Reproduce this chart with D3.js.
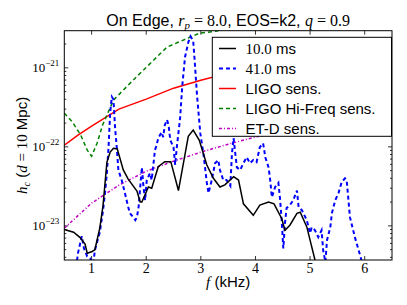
<!DOCTYPE html>
<html>
<head>
<meta charset="utf-8">
<script src="https://d3js.org/d3.v7.min.js"></script>
<style>
  body { margin: 0; background: #fff }
  .sans { font-family: "Liberation Sans", Arial, sans-serif }
  .math { font-family: "Liberation Serif", "DejaVu Serif", serif }
</style>
</head>
<body>
<script>
// 10.0 ms spectrum
const fBlack = [0.50,0.67,0.79,0.88,0.92,1.00,1.06,1.15,1.21,1.28,1.34,1.40,1.47,1.58,1.67,1.83,1.89,1.92,2.04,2.10,2.22,2.34,2.45,2.59,2.77,2.86,2.97,3.11,3.23,3.35,3.44,3.60,3.69,3.78,3.96,4.08,4.24,4.34,4.48,4.54,4.63,4.76,4.82,4.94,5.09,5.15]
const hBlack = [9.0e-24,8.3e-24,7.1e-24,5.9e-24,4.5e-24,4.7e-24,5.0e-24,9.4e-24,1.83e-23,6.4e-23,8.6e-23,9.6e-23,9.4e-23,5.1e-23,3.9e-23,2.75e-23,2.0e-23,2.0e-23,3.1e-23,3.0e-23,5.6e-23,6.5e-23,6.5e-23,2.8e-23,1.36e-22,1.63e-22,1.22e-22,5.9e-23,4.0e-23,3.1e-23,3.3e-23,4.2e-23,3.8e-23,1.9e-23,1.36e-23,1.83e-23,2.0e-23,1.9e-23,1.24e-23,8.8e-24,1.02e-23,1.44e-23,1.49e-23,9.7e-24,3.7e-24,2.75e-24]

// 41.0 ms spectrum
const fBlue = [0.50,0.70,0.75,0.82,0.86,0.92,0.97,1.03,1.06,1.10,1.15,1.21,1.25,1.28,1.31,1.34,1.37,1.40,1.43,1.46,1.49,1.55,1.61,1.67,1.70,1.76,1.80,1.83,1.86,1.89,1.92,1.95,1.98,2.01,2.07,2.10,2.16,2.19,2.22,2.28,2.31,2.34,2.38,2.41,2.44,2.50,2.53,2.56,2.62,2.66,2.71,2.77,2.81,2.86,2.89,2.93,2.99,3.05,3.11,3.14,3.20,3.26,3.32,3.35,3.41,3.47,3.54,3.57,3.60,3.63,3.66,3.72,3.78,3.84,3.90,3.96,4.02,4.08,4.14,4.18,4.24,4.27,4.30,4.36,4.42,4.45,4.48,4.51,4.54,4.57,4.63,4.69,4.76,4.79,4.85,4.94,5.00,5.03,5.09,5.15,5.21,5.24,5.28,5.31,5.37,5.40,5.46,5.52,5.58,5.64,5.67,5.73,5.82,5.89,5.95,6.01]
const hBlue = [1.15e-24,2.4e-24,4.5e-24,7.4e-24,5.2e-24,4.1e-24,3.9e-24,3.3e-24,4.9e-24,6.2e-24,8.3e-24,1.58e-23,2.8e-23,4.7e-23,9.9e-23,2.7e-22,4.3e-22,4.0e-22,1.73e-22,9.9e-23,5.1e-23,3.8e-23,2.6e-23,1.73e-23,1.45e-23,1.29e-23,1.18e-23,1.29e-23,1.73e-23,3.1e-23,5.5e-23,3.1e-23,2.1e-23,3.8e-23,4.65e-23,3.8e-23,9.1e-23,1.05e-22,1.29e-22,1.53e-22,1.33e-22,1.88e-22,2.2e-22,1.88e-22,1.22e-22,9.9e-23,5.9e-23,9.9e-23,2.3e-22,5.9e-22,1.36e-21,2.1e-21,2.5e-21,2.2e-21,1.15e-21,4.5e-22,1.49e-22,7.9e-23,3.5e-23,2.6e-23,3.8e-23,6.2e-23,6.8e-23,5.1e-23,3.8e-23,3.8e-23,3.2e-23,8.3e-23,1.29e-22,8.3e-23,5.5e-23,5.1e-23,6.2e-23,7.4e-23,6.2e-23,6.8e-23,6.4e-23,9.9e-23,1.11e-22,7.4e-23,5.5e-23,3.8e-23,2.3e-23,3.1e-23,3.5e-23,2.2e-23,1.18e-23,5.2e-24,1.08e-23,1.68e-23,1.83e-23,2.1e-23,2.8e-23,1.73e-23,1.58e-23,1.18e-23,8.1e-24,9.6e-24,8.8e-24,7.2e-24,8.8e-24,4.9e-24,3.5e-24,6.6e-24,9.6e-24,1.45e-23,2.1e-23,2.6e-23,3.6e-23,4.0e-23,3.8e-23,1.29e-23,7.2e-24,4.9e-24,3.5e-24,2.1e-24]

// detector sensitivity curves
const fLigo = [0.5,0.75,1.0,1.5,2.0,2.5,3.0,3.5,4.0,5.0,6.0,6.5]
const hLigo = [1.05e-22,1.41e-22,1.83e-22,3.0e-22,4.02e-22,5.53e-22,6.98e-22,8.57e-22,1.11e-21,1.53e-21,1.94e-21,2.18e-21]

const fHiFreq = [0.5,0.65,0.8,0.92,1.0,1.1,1.2,1.4,1.76,2.38,2.98,3.3,3.6]
const hHiFreq = [2.67e-22,2.06e-22,1.41e-22,9.1e-23,7.6e-23,1.11e-22,1.88e-22,3.9e-22,6.98e-22,1.83e-21,2.75e-21,2.92e-21,3.55e-21]

const fEtd = [0.5,1.0,1.5,2.0,2.5,3.0,3.5,4.0,5.0,6.0,6.5]
const hEtd = [9.35e-24,1.94e-23,3.27e-23,4.92e-23,6.59e-23,8.57e-23,1.08e-22,1.33e-22,1.77e-22,2.38e-22,2.75e-22]

const xTicks = [1, 2, 3, 4, 5, 6]
const yTicks = [1e-23, 1e-22, 1e-21]
const yTickExp = ['\u221223', '\u221222', '\u221221']

const width = 407, height = 305
const margin = { top: 30.7, right: 15, bottom: 45, left: 64.3 }
const x0 = margin.left, x1 = width - margin.right, y0 = margin.top, y1 = height - margin.bottom

const x = d3.scaleLinear().domain([0.5, 6.5]).range([x0, x1])
const y = d3.scaleLog().domain([3.7e-24, 2.95e-21]).range([y1, y0])

const svg = d3.select('body').append('svg')
  .attr('width', width).attr('height', height)

svg.append('clipPath').attr('id', 'clip')
  .append('rect').attr('x', x0).attr('y', y0).attr('width', x1 - x0).attr('height', y1 - y0)

// minor ticks for the log axis
const yMinor = []
for (let e = -24; e <= -21; e++) {
  for (let m = 2; m <= 9; m++) {
    const v = m * Math.pow(10, e)
    if (v > y.domain()[0] && v < y.domain()[1]) yMinor.push(v)
  }
}

const tickG = svg.append('g').attr('stroke', '#000').attr('stroke-width', 0.8)
xTicks.forEach(t => {
  tickG.append('line').attr('x1', x(t)).attr('x2', x(t)).attr('y1', y1).attr('y2', y1 - 4)
  tickG.append('line').attr('x1', x(t)).attr('x2', x(t)).attr('y1', y0).attr('y2', y0 + 4)
})
yTicks.forEach(t => {
  tickG.append('line').attr('x1', x0).attr('x2', x0 + 4).attr('y1', y(t)).attr('y2', y(t))
  tickG.append('line').attr('x1', x1).attr('x2', x1 - 4).attr('y1', y(t)).attr('y2', y(t))
})
yMinor.forEach(t => {
  tickG.append('line').attr('x1', x0).attr('x2', x0 + 2).attr('y1', y(t)).attr('y2', y(t))
  tickG.append('line').attr('x1', x1).attr('x2', x1 - 2).attr('y1', y(t)).attr('y2', y(t))
})

// tick labels
svg.append('g').selectAll('text').data(xTicks).join('text')
  .attr('class', 'math').attr('x', d => x(d)).attr('y', y1 + 12.5)
  .attr('text-anchor', 'middle').attr('font-size', 14).text(d => d)

const yl = svg.append('g').selectAll('text').data(yTicks).join('text')
  .attr('class', 'math').attr('x', x0 - 5).attr('y', d => y(d) + 4)
  .attr('text-anchor', 'end').attr('font-size', 13)
yl.append('tspan').text('10')
yl.append('tspan').attr('font-size', 9).attr('dy', -6).text((d, i) => yTickExp[i])

// curves
const line = d3.line().x(d => x(d[0])).y(d => y(d[1]))
const plot = svg.append('g').attr('clip-path', 'url(#clip)').attr('fill', 'none')

const series = [
  { f: fEtd, h: hEtd, color: '#bf00bf', w: 1.5, dash: '3,2,1,2' },
  { f: fLigo, h: hLigo, color: '#ff0000', w: 1.5, dash: null },
  { f: fHiFreq, h: hHiFreq, color: '#008000', w: 1.5, dash: '4,3' },
  { f: fBlue, h: hBlue, color: '#0000ff', w: 2, dash: '4,3' },
  { f: fBlack, h: hBlack, color: '#000000', w: 1.5, dash: null }
]
series.forEach(s => {
  plot.append('path')
    .attr('d', line(s.f.map((f, i) => [f, s.h[i]])))
    .attr('stroke', s.color).attr('stroke-width', s.w)
    .attr('stroke-dasharray', s.dash)
})

// frame
svg.append('rect').attr('x', x0).attr('y', y0).attr('width', x1 - x0).attr('height', y1 - y0)
  .attr('fill', 'none').attr('stroke', '#000').attr('stroke-width', 1)

// legend
const lg = svg.append('g')
lg.append('rect').attr('x', 212.3).attr('y', 37.3).attr('width', 179.2).attr('height', 99)
  .attr('fill', '#fff').attr('stroke', '#000').attr('stroke-width', 1)

const legendItems = [
  { color: '#000000', w: 1.5, dash: null, num: '10.0', label: ' ms' },
  { color: '#0000ff', w: 2, dash: '4,3', num: '41.0', label: ' ms' },
  { color: '#ff0000', w: 1.5, dash: null, num: null, label: 'LIGO sens.' },
  { color: '#008000', w: 1.5, dash: '4,3', num: null, label: 'LIGO Hi-Freq sens.' },
  { color: '#bf00bf', w: 1.5, dash: '3,2,1,2', num: null, label: 'ET-D sens.' }
]
legendItems.forEach((d, i) => {
  const cy = 48.5 + i * 20
  lg.append('line').attr('x1', 219).attr('x2', 236).attr('y1', cy).attr('y2', cy)
    .attr('stroke', d.color).attr('stroke-width', d.w).attr('stroke-dasharray', d.dash)
  const t = lg.append('text').attr('x', 245.5).attr('y', cy + 5).attr('font-size', 15)
  if (d.num) t.append('tspan').attr('class', 'math').text(d.num)
  t.append('tspan').attr('class', 'sans').text(d.label)
})

// title
const title = svg.append('text').attr('x', (x0 + x1) / 2).attr('y', 25.5)
  .attr('text-anchor', 'middle').attr('font-size', 16)
title.append('tspan').attr('class', 'sans').text('On Edge, ')
title.append('tspan').attr('class', 'math').attr('font-style', 'italic').text('r')
title.append('tspan').attr('class', 'math').attr('font-style', 'italic').attr('font-size', 11).attr('dy', 3).text('p')
title.append('tspan').attr('class', 'math').attr('dy', -3).text(' = 8.0')
title.append('tspan').attr('class', 'sans').text(', EOS=k2, ')
title.append('tspan').attr('class', 'math').attr('font-style', 'italic').text('q')
title.append('tspan').attr('class', 'math').text(' = 0.9')

// x label
const xl = svg.append('text').attr('x', (x0 + x1) / 2).attr('y', 287)
  .attr('text-anchor', 'middle').attr('font-size', 15)
xl.append('tspan').attr('class', 'math').attr('font-style', 'italic').text('f')
xl.append('tspan').attr('class', 'sans').text(' (kHz)')

// y label
const ylab = svg.append('text')
  .attr('transform', `translate(27,${(y0 + y1) / 2}) rotate(-90)`)
  .attr('text-anchor', 'middle').attr('font-size', 15)
ylab.append('tspan').attr('class', 'math').attr('font-style', 'italic').text('h')
ylab.append('tspan').attr('class', 'math').attr('font-style', 'italic').attr('font-size', 10).attr('dy', 3).text('c')
ylab.append('tspan').attr('class', 'sans').attr('dy', -3).text(' (')
ylab.append('tspan').attr('class', 'math').attr('font-style', 'italic').text('d')
ylab.append('tspan').attr('class', 'math').text(' = 10')
ylab.append('tspan').attr('class', 'sans').text(' Mpc)')
</script>
</body>
</html>
